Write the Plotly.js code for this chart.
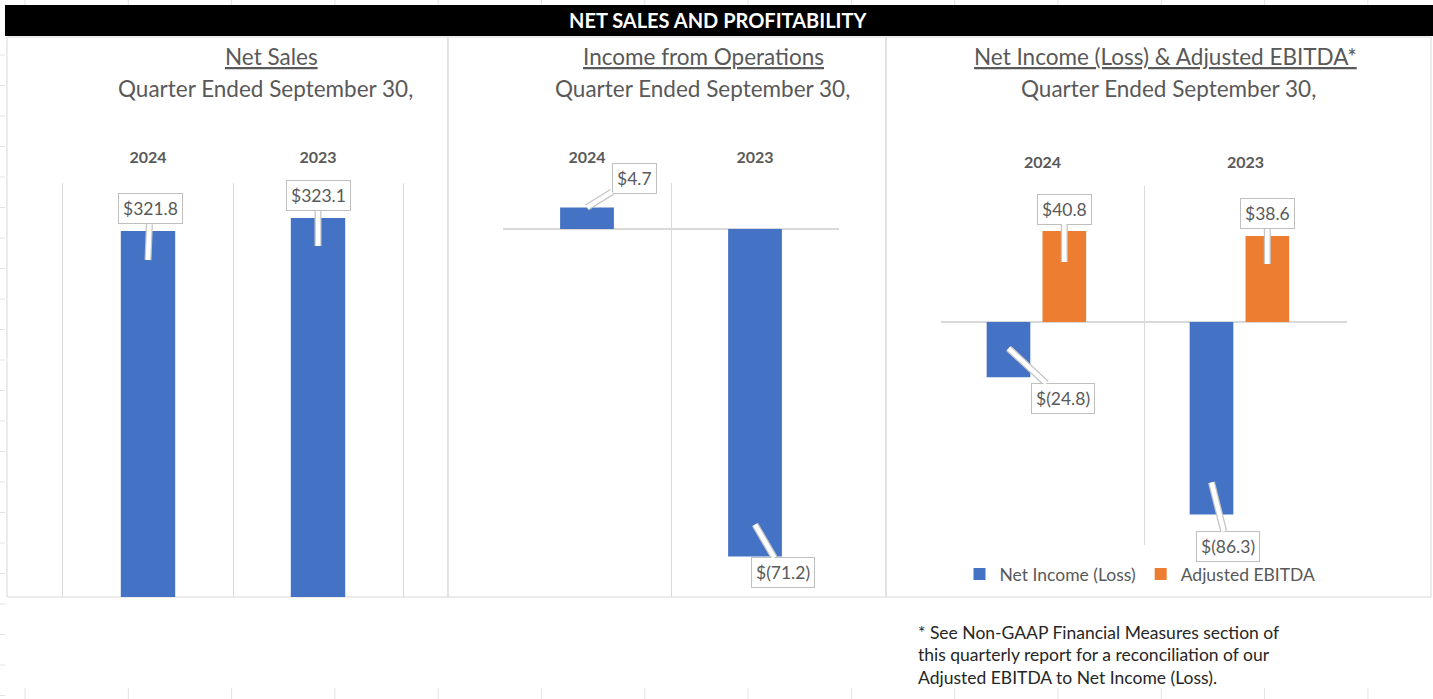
<!DOCTYPE html>
<html>
<head>
<meta charset="utf-8">
<script src="https://cdn.plot.ly/plotly-3.0.1.min.js"></script>
<style>html,body{margin:0;padding:0;background:#fff;}#chart{width:1433px;height:699px;}</style>
</head>
<body>
<div id="chart"></div>
<script>
// ---- data ----
const years = ['2024', '2023'];
const netSales = [321.8, 323.1];
const incomeFromOps = [4.7, -71.2];
const netIncome = [-24.8, -86.3];
const adjEbitda = [40.8, 38.6];
const seriesNames = ['Net Income (Loss)', 'Adjusted EBITDA'];
const mainTitle = 'NET SALES AND PROFITABILITY';
const panelTitles = ['Net Sales', 'Income from Operations', 'Net Income (Loss) & Adjusted EBITDA*'];
const subTitle = 'Quarter Ended September 30,';
const footnoteLines = ['* See Non-GAAP Financial Measures section of',
  'this quarterly report for a reconciliation of our',
  'Adjusted EBITDA to Net Income (Loss).'];

// ---- layout helpers ----
const W = 1433, H = 699;
const px = x => x / W;
const py = y => 1 - y / H;
const FONT = 'Lato, "Open Sans", sans-serif';
const GREY = '#595959';
const GRID = '#d9d9d9';
const BLUE = '#4472C4', ORANGE = '#ED7D31';
const fmt = v => v >= 0 ? '$' + v.toFixed(1) : '$(' + Math.abs(v).toFixed(1) + ')';

const OFF_BLUE = -0.275, OFF_ORANGE = 0.0, W3 = 0.215;
const traces = [
  {type: 'bar', x: years, y: netSales, xaxis: 'x', yaxis: 'y', marker: {color: BLUE}, width: 0.32, showlegend: false, hoverinfo: 'skip'},
  {type: 'bar', x: years, y: incomeFromOps, xaxis: 'x2', yaxis: 'y2', marker: {color: BLUE}, width: 0.32, showlegend: false, hoverinfo: 'skip'},
  {type: 'bar', x: years, y: netIncome, name: seriesNames[0], xaxis: 'x3', yaxis: 'y3', marker: {color: BLUE}, width: W3, offset: OFF_BLUE, hoverinfo: 'skip'},
  {type: 'bar', x: years, y: adjEbitda, name: seriesNames[1], xaxis: 'x3', yaxis: 'y3', marker: {color: ORANGE}, width: W3, offset: OFF_ORANGE, hoverinfo: 'skip'}
];

function xax(d) {
  return {domain: d, type: 'category', side: 'top', showgrid: true, gridcolor: GRID, gridwidth: 1,
    tickson: 'boundaries', ticks: '', showline: false, zeroline: false, fixedrange: true,
    tickfont: {family: FONT, size: 16, color: GREY}, ticklabelstandoff: 16,
    tickvals: years, ticktext: years.map(t => '<b>' + t + '</b>')};
}
function yax(d, r) {
  return {domain: d, range: r, showgrid: false, showticklabels: false, ticks: '',
    showline: true, mirror: true, linecolor: GRID, linewidth: 1,
    zeroline: true, zerolinecolor: GRID, zerolinewidth: 1.5, fixedrange: true};
}

const shapes = [];
// faint worksheet gridline marks around the edges
for (let i = 0; i < 14; i++) {
  const x = 25 + i * 103.3;
  shapes.push({type: 'line', xref: 'paper', yref: 'paper', x0: px(x), x1: px(x), y0: py(0), y1: py(5), line: {color: '#e3e3e3', width: 1}});
  shapes.push({type: 'line', xref: 'paper', yref: 'paper', x0: px(x), x1: px(x), y0: py(688), y1: py(699), line: {color: '#e3e3e3', width: 1}});
}
for (let i = 0; i < 22; i++) {
  const y = 55 + i * 30.5;
  shapes.push({type: 'line', xref: 'paper', yref: 'paper', x0: px(0), x1: px(5), y0: py(y), y1: py(y), line: {color: '#e3e3e3', width: 1}});
}
// title bar
shapes.push({type: 'rect', xref: 'paper', yref: 'paper', x0: px(5), x1: px(1433), y0: py(36), y1: py(5), fillcolor: '#000', line: {width: 0}, layer: 'below'});
// panel frames
[[7, 448], [448, 886], [886, 1431]].forEach(([a, b]) => {
  shapes.push({type: 'rect', xref: 'paper', yref: 'paper', x0: px(a), x1: px(b), y0: py(597), y1: py(37), line: {color: GRID, width: 1}, fillcolor: 'rgba(0,0,0,0)', layer: 'below'});
});

const annotations = [];
annotations.push({xref: 'paper', yref: 'paper', x: px(718), y: py(20.5), text: '<b>' + mainTitle + '</b>', showarrow: false,
  font: {family: FONT, size: 20, color: '#fff'}, xanchor: 'center', yanchor: 'middle'});
[[271, panelTitles[0]], [703, panelTitles[1]], [1165, panelTitles[2]]].forEach(([cx, t], i) => {
  const sx = [265, 702, 1168][i];
  annotations.push({xref: 'paper', yref: 'paper', x: px(cx), y: py(57), text: '<u>' + t + '</u>', showarrow: false,
    font: {family: FONT, size: 22.5, color: GREY}, xanchor: 'center', yanchor: 'middle'});
  annotations.push({xref: 'paper', yref: 'paper', x: px(sx), y: py(89), text: subTitle, showarrow: false,
    font: {family: FONT, size: 22.5, color: GREY}, xanchor: 'center', yanchor: 'middle'});
});
footnoteLines.forEach((t, i) => {
  annotations.push({xref: 'paper', yref: 'paper', x: px(916), y: py(632 + i * 22.5), text: t, showarrow: false,
    font: {family: FONT, size: 17.5, color: '#262626'}, xanchor: 'left', yanchor: 'middle'});
});

// callouts
function callout(xr, yr, xpos, v, ax, ay, ys) {
  const base = {xref: xr, yref: yr, x: xpos, y: v, yshift: ys, ax: ax, ay: ay, showarrow: true,
    arrowhead: 0, standoff: 0, startstandoff: 0, borderpad: 4, xanchor: 'center', yanchor: 'middle'};
  annotations.push(Object.assign({}, base, {text: fmt(v), font: {family: FONT, size: 17.5, color: 'rgba(0,0,0,0)'},
    arrowcolor: '#c4c4c4', arrowwidth: 7, bordercolor: 'rgba(0,0,0,0)'}));
  annotations.push(Object.assign({}, base, {text: fmt(v), font: {family: FONT, size: 17.5, color: GREY},
    arrowcolor: '#ffffff', arrowwidth: 4.5, bgcolor: '#ffffff', bordercolor: '#bfbfbf', borderwidth: 1}));
}
callout('x', 'y', 0, netSales[0], 2, -51, -29);
callout('x', 'y', 1, netSales[1], 0, -50, -28);
callout('x2', 'y2', 0, incomeFromOps[0], 47, -29, 0);
callout('x2', 'y2', 1, incomeFromOps[1], 28, 48, 32);
callout('x3', 'y3', 0 + OFF_BLUE + W3 / 2, netIncome[0], 54, 50, 29);
callout('x3', 'y3', 1 + OFF_BLUE + W3 / 2, netIncome[1], 16, 64, 32);
callout('x3', 'y3', 0 + OFF_ORANGE + W3 / 2, adjEbitda[0], 0, -53, -31);
callout('x3', 'y3', 1 + OFF_ORANGE + W3 / 2, adjEbitda[1], 0, -50, -28);

const layout = {
  width: W, height: H, margin: {l: 0, r: 0, t: 0, b: 0},
  paper_bgcolor: '#fff', plot_bgcolor: 'rgba(0,0,0,0)',
  barmode: 'group', bargap: 0.45, bargroupgap: 0.21,
  font: {family: FONT, color: GREY},
  xaxis: xax([px(63), px(403)]),
  yaxis: yax([py(597), py(183)], [285.2, 326.6]),
  xaxis2: xax([px(503), px(839)]),
  yaxis2: yax([py(597), py(183)], [-80, 10]),
  xaxis3: Object.assign(xax([px(941), px(1347)]), {ticklabelstandoff: 11}),
  yaxis3: yax([py(545), py(186)], [-100, 61]),
  showlegend: true,
  legend: {orientation: 'h', x: px(1140), xanchor: 'center', y: py(574), yanchor: 'middle',
    font: {family: FONT, size: 17.5, color: GREY}, bgcolor: 'rgba(0,0,0,0)', itemwidth: 30},
  shapes: shapes, annotations: annotations
};
Plotly.newPlot('chart', traces, layout, {displayModeBar: false, staticPlot: true});
</script>
</body>
</html>
